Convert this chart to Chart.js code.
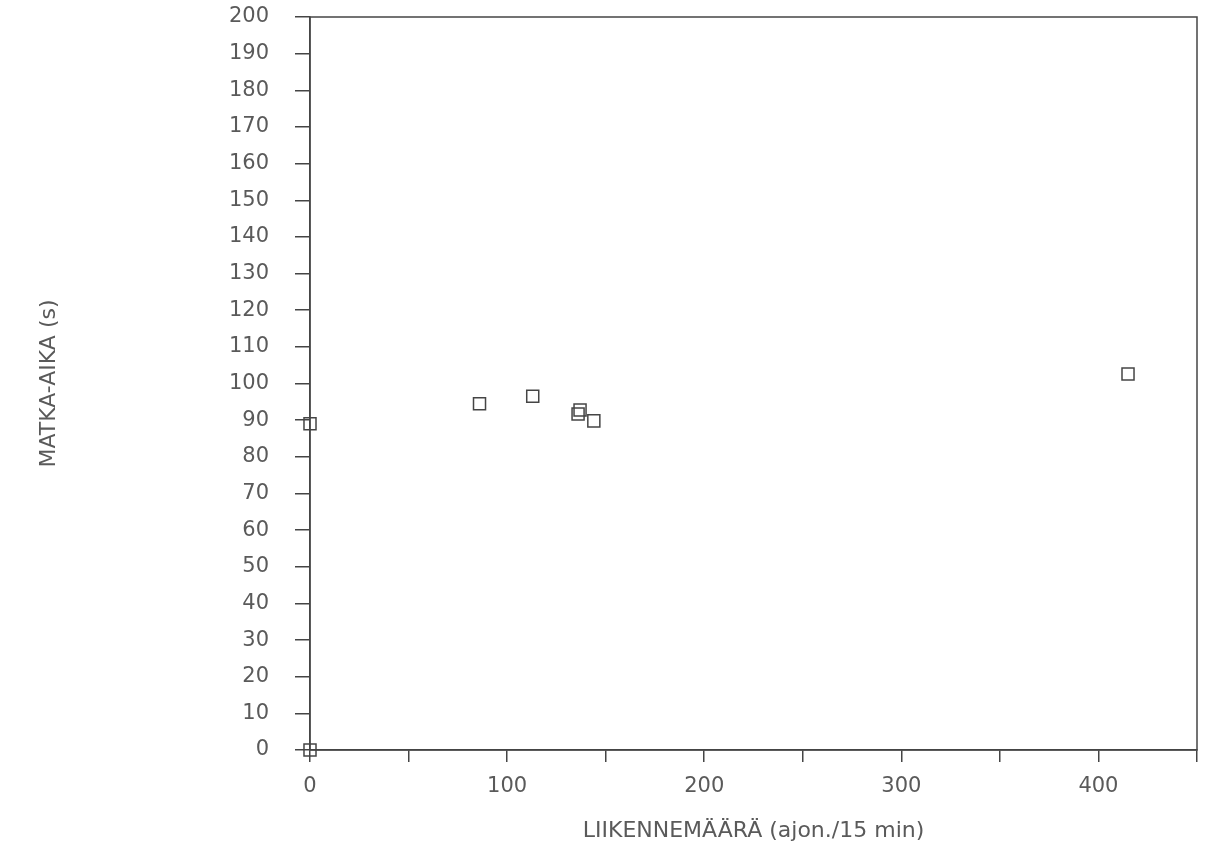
<!DOCTYPE html>
<html>
<head>
<meta charset="utf-8">
<script src="https://cdn.jsdelivr.net/npm/chart.js@4"></script>
<style>
  html, body { margin: 0; padding: 0; background: #fff; }
  #grafico { display: block; }
</style>
</head>
<body>
<canvas id="grafico" width="1207" height="846"></canvas>
<script>
// liikennemäärä (ajon./15 min) ja matka-aika (s)
const liikennemaara = [0, 0, 86, 113, 136, 137, 144, 415];
const matkaAika = [0, 89, 94.5, 96.5, 91.7, 92.8, 89.8, 102.6];
const xTikit = [0, 100, 200, 300, 400];

const vari = '#454545';
const tekstiVari = '#5a5a5a';
const fontti = "'DejaVu Sans', sans-serif";

const pisteet = liikennemaara.map((x, i) => ({ x: x, y: matkaAika[i] }));

// kehys kuvaajan ympärille
const kehys = {
  id: 'kehys',
  afterDraw(chart) {
    const ctx = chart.ctx;
    const a = chart.chartArea;
    ctx.save();
    ctx.strokeStyle = vari;
    ctx.lineWidth = 1.5;
    ctx.strokeRect(a.left, a.top, a.right - a.left, a.bottom - a.top);
    ctx.restore();
  }
};

const context = document.getElementById('grafico').getContext('2d');

const grafiikka = new Chart(context, {
  type: 'scatter',
  data: {
    datasets: [
      {
        data: pisteet,
        pointStyle: 'rect',
        pointRadius: 8.5,
        pointHoverRadius: 8.5,
        borderColor: vari,
        borderWidth: 1.5,
        backgroundColor: 'rgba(0,0,0,0)',
        clip: false,
      },
    ],
  },
  options: {
    responsive: false,
    animation: false,
    layout: {
      padding: { top: 17, right: 7, left: 36, bottom: 0 },
    },
    plugins: {
      legend: { display: false },
      tooltip: { enabled: false },
    },
    scales: {
      x: {
        type: 'linear',
        min: 0,
        max: 450,
        grid: {
          drawOnChartArea: false,
          tickLength: 12,
          color: vari,
          lineWidth: 1.5,
        },
        border: { color: vari, width: 1.5 },
        ticks: {
          stepSize: 50,
          padding: 12,
          maxRotation: 0,
          autoSkip: false,
          color: tekstiVari,
          font: { family: fontti, size: 21 },
          callback: (v) => (xTikit.includes(v) ? String(v) : ''),
        },
        title: {
          display: true,
          text: 'LIIKENNEMÄÄRÄ (ajon./15 min)',
          color: tekstiVari,
          font: { family: fontti, size: 22 },
          padding: { top: 0, bottom: 2 },
        },
        afterFit: (scale) => {
          scale.height = 96;
          scale.paddingLeft = 0;
          scale.paddingRight = 0;
        },
      },
      y: {
        min: 0,
        max: 200,
        grid: {
          drawOnChartArea: false,
          tickLength: 15,
          color: vari,
          lineWidth: 1.5,
        },
        border: { color: vari, width: 1.5 },
        ticks: {
          stepSize: 10,
          padding: 26,
          autoSkip: false,
          color: tekstiVari,
          font: { family: fontti, size: 21 },
        },
        title: {
          display: true,
          text: 'MATKA-AIKA (s)',
          color: tekstiVari,
          font: { family: fontti, size: 22 },
          padding: { top: 0, bottom: 0 },
        },
        afterFit: (scale) => {
          scale.width = 310 - 36;
          scale.paddingTop = 0;
          scale.paddingBottom = 0;
        },
      },
    },
  },
  plugins: [kehys],
});
</script>
</body>
</html>
